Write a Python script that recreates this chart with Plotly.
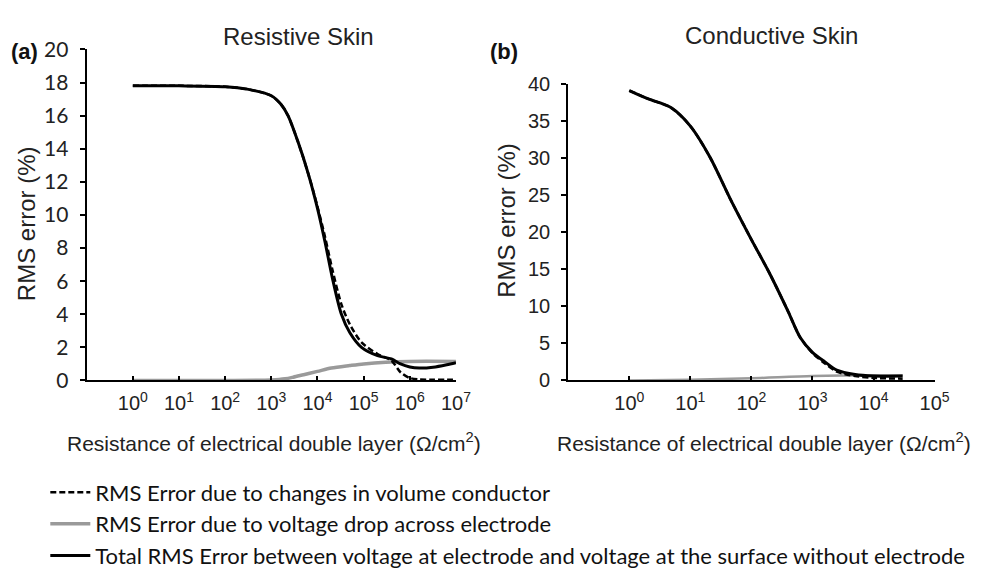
import plotly.graph_objects as go

# ---------------- data ----------------
# (a) Resistive skin
res_a = [1, 10, 100, 300, 1000, 1600, 2300, 3800, 6300, 1e4, 1.45e4, 2.1e4, 3.3e4, 5e4,
         9e4, 2e5, 4e5, 6.3e5, 1e6, 1.6e6, 3.2e6, 6.3e6, 1e7]
total_a = [17.8, 17.8, 17.75, 17.6, 17.2, 16.7, 16.0, 14.4, 12.5, 10.4, 8.4, 6.2, 4.0, 2.9,
           2.0, 1.5, 1.3, 1.0, 0.82, 0.75, 0.8, 0.95, 1.08]
volume_a = [17.8, 17.8, 17.75, 17.6, 17.2, 16.7, 16.0, 14.4, 12.5, 10.5, 8.7, 6.7, 4.6, 3.4,
            2.3, 1.6, 1.2, 0.5, 0.15, 0.06, 0.05, 0.05, 0.05]
drop_res_a = [1, 100, 1000, 2000, 3000, 5000, 1e4, 2e4, 5e4, 1e5, 3e5, 1e6, 1e7]
drop_a = [0.0, 0.0, 0.03, 0.1, 0.2, 0.35, 0.55, 0.75, 0.9, 1.0, 1.1, 1.15, 1.15]

# (b) Conductive skin
res_b = [1, 2, 4.8, 10, 21, 45, 100, 200, 400, 630, 1000, 1600, 2500, 5000, 1e4, 3e4]
total_b = [39.1, 38.0, 36.8, 34.3, 30.1, 24.5, 19.0, 14.4, 9.3, 5.8, 3.8, 2.5, 1.4, 0.8, 0.6, 0.6]
volume_b = [39.1, 38.0, 36.8, 34.3, 30.1, 24.5, 19.0, 14.4, 9.3, 5.8, 3.7, 2.3, 1.2, 0.6, 0.35, 0.25]
drop_res_b = [1, 10, 100, 1000, 1e4, 3e4]
drop_b = [0.0, 0.1, 0.3, 0.6, 0.7, 0.7]

xtick_a = [1, 10, 100, 1e3, 1e4, 1e5, 1e6, 1e7]
xtick_b = [1, 10, 100, 1e3, 1e4, 1e5]
xtext_a = ["10<sup>%d</sup>" % i for i in range(8)]
xtext_b = ["10<sup>%d</sup>" % i for i in range(6)]
ytick_a = list(range(0, 21, 2))
ytick_b = list(range(0, 41, 5))

names = ["RMS Error due to changes in volume conductor",
         "RMS Error due to voltage drop across electrode",
         "Total RMS Error between voltage at electrode and voltage at the surface without electrode"]
titles = ["Resistive Skin", "Conductive Skin"]
xtitle = "Resistance of electrical double layer (\u03a9/cm<sup>2</sup>)"
ytitle = "RMS error (%)"

ARIAL = "Liberation Sans"
CAL = "Lato"
GRAY = "#9a9a9a"
TXT = "#222"

fig = go.Figure()

# panel a
fig.add_trace(go.Scatter(x=drop_res_a, y=drop_a, mode="lines", name=names[1],
                         line=dict(color=GRAY, width=3.5, shape="spline", smoothing=0.8),
                         legendrank=2, xaxis="x", yaxis="y"))
fig.add_trace(go.Scatter(x=res_a, y=volume_a, mode="lines", name=names[0],
                         line=dict(color="black", width=2.5, dash="6px,3px", shape="spline", smoothing=0.8),
                         legendrank=1, xaxis="x", yaxis="y"))
fig.add_trace(go.Scatter(x=res_a, y=total_a, mode="lines", name=names[2],
                         line=dict(color="black", width=3, shape="spline", smoothing=0.8),
                         legendrank=3, xaxis="x", yaxis="y"))
# panel b
fig.add_trace(go.Scatter(x=drop_res_b, y=drop_b, mode="lines", name=names[1], showlegend=False,
                         line=dict(color=GRAY, width=2.5, shape="spline", smoothing=0.8),
                         xaxis="x2", yaxis="y2"))
fig.add_trace(go.Scatter(x=res_b, y=volume_b, mode="lines", name=names[0], showlegend=False,
                         line=dict(color="black", width=2.5, dash="6px,3px", shape="spline", smoothing=0.8),
                         xaxis="x2", yaxis="y2"))
fig.add_trace(go.Scatter(x=res_b, y=total_b, mode="lines", name=names[2], showlegend=False,
                         line=dict(color="black", width=3, shape="spline", smoothing=0.8),
                         xaxis="x2", yaxis="y2"))

W, H = 987, 580

def px_x(p):
    return p / W

def px_y(p):
    return 1 - p / H

xcommon = dict(type="log", showline=True, linecolor="black", linewidth=2, showgrid=False,
               zeroline=False, ticks="inside", ticklen=4, tickwidth=1.5, tickcolor="black",
               tickfont=dict(family=ARIAL, size=20, color=TXT), ticklabelstandoff=4)
ycommon = dict(showline=True, linecolor="black", linewidth=2, showgrid=False, zeroline=False,
               ticks="outside", ticklen=5, tickwidth=1.5, tickcolor="black",
               ticklabelstandoff=7)

fig.update_layout(
    width=W, height=H,
    margin=dict(l=0, r=0, t=0, b=0),
    paper_bgcolor="white", plot_bgcolor="white",
    xaxis=dict(xcommon, domain=[px_x(88), px_x(463)], range=[-1, 7],
               tickvals=xtick_a, ticktext=xtext_a, anchor="y"),
    yaxis=dict(ycommon, domain=[px_y(383), px_y(37)], range=[0, 20], tickvals=ytick_a,
               tickfont=dict(family=CAL, size=21, color=TXT), anchor="x"),
    xaxis2=dict(xcommon, domain=[px_x(577), px_x(949)], range=[-1, 5],
                tickvals=xtick_b, ticktext=xtext_b, anchor="y2"),
    yaxis2=dict(ycommon, domain=[px_y(383), px_y(73)], range=[0, 40], tickvals=ytick_b,
                tickfont=dict(family=ARIAL, size=20, color=TXT), anchor="x2"),
    showlegend=True,
    legend=dict(x=px_x(46), y=px_y(478), xanchor="left", yanchor="top",
                font=dict(family=CAL, size=22, color="#111"),
                bgcolor="rgba(0,0,0,0)", tracegroupgap=0, itemwidth=40),
)

ann = []
ann.append(dict(text=titles[0], x=px_x(303), y=px_y(23)))
ann.append(dict(text=titles[1], x=px_x(783), y=px_y(22)))
for a in ann:
    a.update(xref="paper", yref="paper", showarrow=False, xanchor="center", yanchor="middle",
             font=dict(family=ARIAL, size=24, color=TXT))
more = [
    dict(text="<b>(a)</b>", x=px_x(25), y=px_y(39), font=dict(family=ARIAL, size=22, color="#111")),
    dict(text="<b>(b)</b>", x=px_x(512), y=px_y(39), font=dict(family=ARIAL, size=22, color="#111")),
    dict(text=ytitle, x=px_x(27), y=px_y(219), textangle=-90,
         font=dict(family=ARIAL, size=24, color=TXT)),
    dict(text=ytitle, x=px_x(515), y=px_y(216), textangle=-90,
         font=dict(family=ARIAL, size=24, color=TXT)),
    dict(text=xtitle, x=px_x(278), y=px_y(447), font=dict(family=ARIAL, size=21, color=TXT)),
    dict(text=xtitle, x=px_x(776), y=px_y(447), font=dict(family=ARIAL, size=21, color=TXT)),
]
for a in more:
    a.update(xref="paper", yref="paper", showarrow=False, xanchor="center", yanchor="middle")
fig.update_layout(annotations=ann + more)

fig.write_html("out.html")
